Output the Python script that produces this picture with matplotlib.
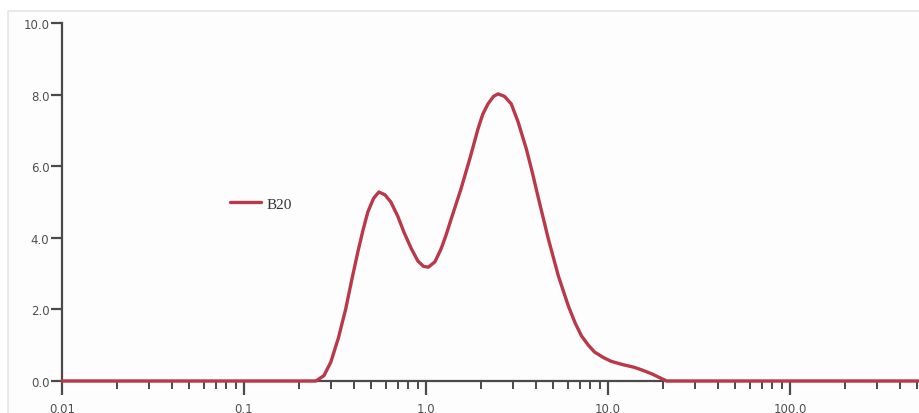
import matplotlib
matplotlib.use("Agg")
import matplotlib.pyplot as plt
from matplotlib.ticker import LogLocator, FixedLocator, FixedFormatter, NullFormatter
from matplotlib.patches import Rectangle

# particle size (log scale) and distribution value
size = [0.01, 0.1, 0.248, 0.275, 0.30, 0.33, 0.362, 0.39, 0.422, 0.45, 0.479,
        0.515, 0.551, 0.595, 0.641, 0.70, 0.756, 0.83, 0.903, 0.97, 1.03,
        1.12, 1.21, 1.29, 1.37, 1.46, 1.56, 1.75, 1.93, 2.05, 2.19, 2.35, 2.49,
        2.70, 2.94, 3.20, 3.56, 3.85, 4.14, 4.7, 5.34, 6.06, 6.6, 7.15, 7.8,
        8.43, 9.4, 10.4, 12.0, 14.0, 15.7, 17.4, 19.3, 21.0, 50.0, 100.0, 600.0]
b20 = [0.0, 0.0, 0.0, 0.15, 0.53, 1.2, 2.01, 2.8, 3.6, 4.2, 4.72,
       5.1, 5.28, 5.2, 5.0, 4.6, 4.16, 3.7, 3.35, 3.2, 3.18,
       3.33, 3.69, 4.08, 4.5, 4.93, 5.38, 6.25, 7.04, 7.45, 7.74, 7.95, 8.02,
       7.95, 7.74, 7.25, 6.48, 5.8, 5.12, 3.97, 2.93, 2.09, 1.62, 1.26, 1.0,
       0.81, 0.66, 0.55, 0.46, 0.38, 0.29, 0.2, 0.09, 0.0, 0.0, 0.0, 0.0]

y_ticks = [0, 2, 4, 6, 8, 10]
y_labels = ["0.0", "2.0", "4.0", "6.0", "8.0", "10.0"]
x_ticks = [0.01, 0.1, 1, 10, 100]
x_labels = ["0.01", "0.1", "1.0", "10.0", "100.0"]

fig = plt.figure(figsize=(9.2, 4.14), dpi=100)
fig.patch.set_facecolor("white")
fig.add_artist(Rectangle((8 / 920, -0.1), 1.2, (414 - 12) / 414 + 0.1,
                         transform=fig.transFigure, facecolor="#fdfdfd",
                         edgecolor="#e6e6e6", lw=1.2, zorder=0))

ax = fig.add_axes([62 / 920, 32 / 414, 1 - 62 / 920, (382 - 24) / 414])
ax.set_facecolor("none")

ax.plot(size, b20, color="#b93849", lw=2.4, label="B20", solid_capstyle="round",
        solid_joinstyle="round", clip_on=False, zorder=3)

ax.set_xscale("log")
ax.set_xlim(0.01, 518)
ax.set_ylim(0, 10)

for s in ["top", "right"]:
    ax.spines[s].set_visible(False)
for s in ["left", "bottom"]:
    ax.spines[s].set_color("#4a4a4a")
    ax.spines[s].set_linewidth(1.6)

ax.yaxis.set_major_locator(FixedLocator(y_ticks))
ax.yaxis.set_major_formatter(FixedFormatter(y_labels))
ax.xaxis.set_major_locator(FixedLocator(x_ticks))
ax.xaxis.set_major_formatter(FixedFormatter(x_labels))
ax.xaxis.set_minor_locator(LogLocator(base=10, subs=range(2, 10), numticks=20))
ax.xaxis.set_minor_formatter(NullFormatter())

ax.tick_params(axis="y", direction="out", length=8, width=1.6, color="#4a4a4a",
               labelsize=8.5, labelcolor="#505050", pad=1)
ax.tick_params(axis="x", which="major", direction="out", length=10, width=1.6,
               color="#4a4a4a", labelsize=8.5, labelcolor="#505050", pad=5)
ax.tick_params(axis="x", which="minor", direction="out", length=6, width=1.4,
               color="#4a4a4a")

leg = ax.legend(loc="center left", bbox_to_anchor=(0.18, 0.495), frameon=False,
                handlelength=2.0, handletextpad=0.4,
                prop={"family": "Liberation Serif", "size": 11})
for t in leg.get_texts():
    t.set_color("#333333")

fig.savefig("out.png", dpi=100, facecolor=fig.get_facecolor())
